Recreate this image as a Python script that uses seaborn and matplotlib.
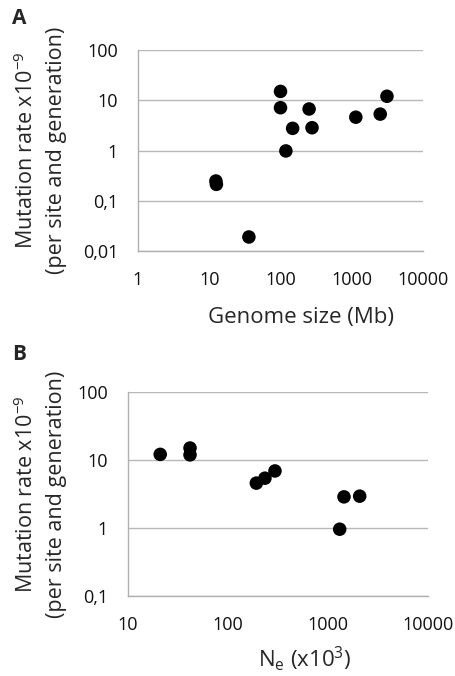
import matplotlib
matplotlib.use("Agg")
import matplotlib.pyplot as plt
import seaborn as sns

# Panel A: genome size vs mutation rate
genome_size = [100, 100, 252, 148, 277, 119, 1140, 2510, 3120, 12.4, 12.6, 36]
rate_a = [15, 7.1, 6.7, 2.76, 2.84, 0.98, 4.6, 5.3, 12, 0.247, 0.212, 0.019]

# Panel B: effective population size vs mutation rate
ne = [21, 41.7, 41.7, 192, 234, 295, 1309, 1445, 2074]
rate_b = [12.1, 15, 11.9, 4.57, 5.4, 6.9, 0.96, 2.87, 2.94]

xticks_a = [1, 10, 100, 1000, 10000]
yticks_a = [0.01, 0.1, 1, 10, 100]
ylabels_a = ["0,01", "0,1", "1", "10", "100"]
xticks_b = [10, 100, 1000, 10000]
yticks_b = [0.1, 1, 10, 100]
ylabels_b = ["0,1", "1", "10", "100"]

sns.set_style("white")
plt.rcParams['font.family'] = ['Open Sans', 'DejaVu Sans']
plt.rcParams['mathtext.fontset'] = 'custom'
plt.rcParams['mathtext.rm'] = 'Open Sans'
plt.rcParams['mathtext.it'] = 'Open Sans'
plt.rcParams['mathtext.default'] = 'rm'

W, H = 456, 676
fig = plt.figure(figsize=(W / 100, H / 100), dpi=100)

YLABEL = 'Mutation rate x10$^{-9}$\n(per site and generation)'


def style_axes(ax, xticks, yticks, ylabels):
    ax.set_xscale('log')
    ax.set_yscale('log')
    ax.set_xlim(xticks[0], xticks[-1])
    ax.set_ylim(yticks[0], yticks[-1])
    ax.set_xticks(xticks)
    ax.set_xticklabels([str(t) for t in xticks])
    ax.set_yticks(yticks)
    ax.set_yticklabels(ylabels)
    ax.minorticks_off()
    ax.yaxis.grid(True, color='#b8b8b8', lw=1)
    ax.set_axisbelow(True)
    for s in ['top', 'right']:
        ax.spines[s].set_visible(False)
    for s in ['left', 'bottom']:
        ax.spines[s].set_color('#b0b0b0')
        ax.spines[s].set_linewidth(1)
    ax.tick_params(axis='both', which='major', length=4.3, width=1, color='#b0b0b0',
                   labelsize=13, labelcolor='#111111', direction='out', pad=10)


# Panel A
ax1 = fig.add_axes([138 / W, 1 - 251 / H, (423 - 138) / W, (251 - 50) / H])
sns.scatterplot(x=genome_size, y=rate_a, ax=ax1, color='black', s=95, edgecolor='none')
style_axes(ax1, xticks_a, yticks_a, ylabels_a)
ax1.set_xlabel('Genome size (Mb)', fontsize=16, va='center')
ax1.xaxis.set_label_coords(0.572, -0.333)
ax1.set_ylabel(YLABEL, fontsize=15.5, va='center', linespacing=1.5)
ax1.yaxis.set_label_coords(-0.34, 0.5)
fig.text(12 / W, 1 - 19 / H, 'A', fontsize=15, fontweight='bold', va='center')

# Panel B
ax2 = fig.add_axes([128 / W, 1 - 596 / H, (428 - 128) / W, (596 - 392) / H])
sns.scatterplot(x=ne, y=rate_b, ax=ax2, color='black', s=95, edgecolor='none')
style_axes(ax2, xticks_b, yticks_b, ylabels_b)
ax2.set_xlabel('N$_e$ (x10$^3$)', fontsize=16, va='center')
ax2.xaxis.set_label_coords(0.59, -0.305)
ax2.set_ylabel(YLABEL, fontsize=15.5, va='center', linespacing=1.5)
ax2.yaxis.set_label_coords(-0.29, 0.5)
fig.text(12 / W, 1 - 355 / H, 'B', fontsize=15, fontweight='bold', va='center')

fig.savefig('out.png', dpi=100)
